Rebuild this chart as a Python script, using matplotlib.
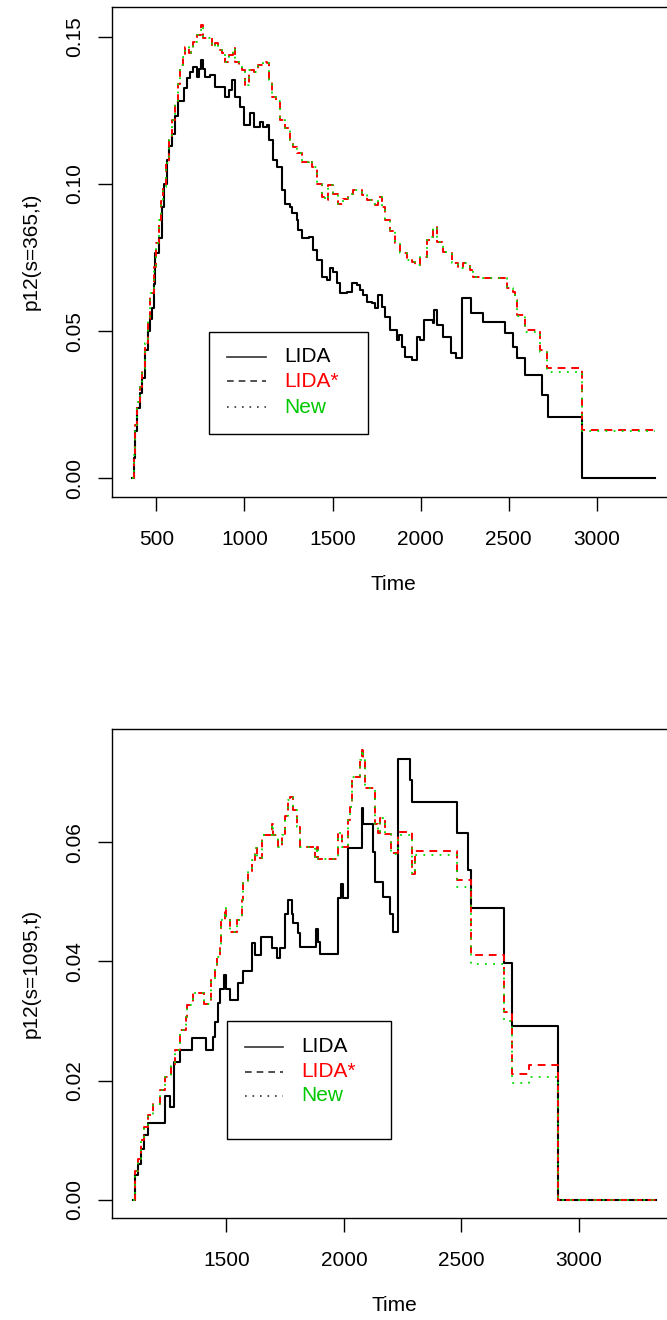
import matplotlib
matplotlib.use("Agg")
import matplotlib.pyplot as plt
from matplotlib.patches import Rectangle
from matplotlib.ticker import FormatStrFormatter

plt.rcParams['font.family'] = ['Liberation Sans', 'DejaVu Sans']
plt.rcParams['font.size'] = 15

# ---- panel 1: s = 365 ----
t_365_lida = [365, 371, 381, 391, 405, 419, 438, 452, 466, 475, 485, 494, 513, 532, 545, 561, 575, 589,
              608, 626, 655, 674, 693, 711, 730, 745, 753, 765, 778, 806, 834, 863, 891, 910, 929, 948,
              976, 999, 1033, 1052, 1090, 1108, 1128, 1137, 1165, 1184, 1213, 1231, 1260, 1269, 1298,
              1307, 1326, 1364, 1392, 1411, 1439, 1468, 1486, 1505, 1524, 1543, 1581, 1609, 1638, 1656,
              1675, 1694, 1723, 1741, 1760, 1779, 1798, 1827, 1865, 1879, 1893, 1912, 1950, 1978, 1997,
              2019, 2072, 2076, 2091, 2129, 2171, 2201, 2233, 2284, 2355, 2478, 2526, 2545, 2592, 2687,
              2720, 2913, 3330]
p_365_lida = [0.0, 0.007, 0.016, 0.024, 0.029, 0.034, 0.0435, 0.050, 0.054, 0.058, 0.066, 0.0764, 0.0815,
              0.092, 0.100, 0.108, 0.113, 0.117, 0.123, 0.128, 0.1324, 0.136, 0.138, 0.1397, 0.1363, 0.139,
              0.142, 0.139, 0.1363, 0.1369, 0.133, 0.133, 0.1295, 0.1318, 0.1352, 0.1295, 0.1261, 0.120,
              0.1239, 0.1193, 0.121, 0.1193, 0.120, 0.1148, 0.108, 0.1058, 0.0979, 0.0933, 0.0922, 0.090,
              0.0877, 0.0843, 0.0815, 0.082, 0.0775, 0.0741, 0.0684, 0.0673, 0.0713, 0.0701, 0.0662, 0.0628,
              0.0633, 0.0662, 0.0656, 0.064, 0.0622, 0.060, 0.0594, 0.0577, 0.0622, 0.0583, 0.0549, 0.0503,
              0.047, 0.0486, 0.0447, 0.0413, 0.0402, 0.0481, 0.047, 0.0537, 0.0526, 0.0571, 0.052, 0.0481,
              0.0424, 0.0407, 0.0611, 0.056, 0.0532, 0.0492, 0.0447, 0.0407, 0.0351, 0.0283, 0.0209, 0.0,
              0.0]

t_365_star = [365, 371, 381, 391, 405, 419, 438, 452, 466, 485, 500, 513, 527, 541, 555, 570, 589, 608, 622,
              636, 650, 664, 683, 697, 711, 730, 753, 768, 796, 815, 834, 853, 872, 891, 910, 935, 948, 967,
              986, 1005, 1029, 1052, 1080, 1108, 1128, 1137, 1156, 1180, 1203, 1231, 1260, 1278, 1298, 1326,
              1364, 1383, 1411, 1439, 1458, 1477, 1505, 1533, 1562, 1590, 1618, 1647, 1666, 1694, 1723, 1741,
              1760, 1779, 1798, 1827, 1855, 1883, 1921, 1950, 1968, 1997, 2035, 2053, 2072, 2091, 2129, 2157,
              2176, 2214, 2242, 2280, 2299, 2346, 2478, 2488, 2526, 2535, 2545, 2592, 2677, 2715, 2913, 3330]
p_365_star = [0.0, 0.008, 0.018, 0.026, 0.031, 0.037, 0.046, 0.054, 0.0628, 0.0718, 0.080, 0.0877, 0.094,
              0.099, 0.107, 0.1148, 0.1216, 0.128, 0.134, 0.1403, 0.143, 0.1465, 0.1443, 0.146, 0.1482,
              0.1505, 0.154, 0.1494, 0.1494, 0.1465, 0.1477, 0.1454, 0.1443, 0.1414, 0.1437, 0.146, 0.1414,
              0.1397, 0.1386, 0.1335, 0.1386, 0.138, 0.1403, 0.1414, 0.1409, 0.1352, 0.1295, 0.128, 0.1216,
              0.1188, 0.1148, 0.1126, 0.1103, 0.1075, 0.108, 0.1058, 0.1001, 0.0956, 0.0945, 0.0996, 0.0967,
              0.0933, 0.095, 0.0967, 0.0979, 0.0979, 0.0962, 0.0945, 0.0933, 0.0928, 0.0956, 0.0922, 0.0877,
              0.084, 0.0798, 0.0764, 0.0741, 0.0735, 0.0724, 0.0752, 0.0809, 0.082, 0.0854, 0.0803, 0.0769,
              0.0764, 0.073, 0.0713, 0.073, 0.0707, 0.0684, 0.0679, 0.0679, 0.0645, 0.0633, 0.0605, 0.0554,
              0.0503, 0.0436, 0.0373, 0.0164, 0.0164]
p_365_new = [0.0, 0.008, 0.018, 0.026, 0.031, 0.037, 0.046, 0.054, 0.0628, 0.0718, 0.080, 0.0877, 0.094,
             0.099, 0.107, 0.1148, 0.1216, 0.128, 0.134, 0.1403, 0.143, 0.1465, 0.1443, 0.146, 0.1482,
             0.1505, 0.1535, 0.1494, 0.1494, 0.1465, 0.1477, 0.1454, 0.1443, 0.1414, 0.1437, 0.146, 0.1414,
             0.1397, 0.1386, 0.1335, 0.1386, 0.138, 0.1403, 0.1414, 0.1409, 0.1352, 0.1295, 0.128, 0.1216,
             0.1188, 0.1148, 0.1126, 0.1103, 0.1075, 0.108, 0.1058, 0.1001, 0.0956, 0.0945, 0.0996, 0.0967,
             0.0933, 0.095, 0.0967, 0.0979, 0.0979, 0.0962, 0.0945, 0.0933, 0.0928, 0.0956, 0.0922, 0.0877,
             0.084, 0.0798, 0.0764, 0.0741, 0.0735, 0.0724, 0.0752, 0.0809, 0.082, 0.0854, 0.0803, 0.0769,
             0.0764, 0.073, 0.0713, 0.073, 0.0707, 0.0684, 0.0679, 0.0679, 0.0645, 0.0633, 0.0605, 0.0550,
             0.0498, 0.0430, 0.0362, 0.0162, 0.0162]

# ---- panel 2: s = 1095 ----
t_1095_lida = [1102, 1110, 1124, 1134, 1148, 1164, 1237, 1259, 1276, 1301, 1355, 1412, 1441, 1451, 1462,
               1472, 1489, 1497, 1515, 1550, 1569, 1607, 1621, 1645, 1692, 1714, 1728, 1749, 1763, 1777,
               1784, 1806, 1813, 1877, 1881, 1891, 1898, 1976, 1986, 1997, 2019, 2076, 2083, 2125, 2133,
               2168, 2197, 2210, 2232, 2282, 2289, 2481, 2530, 2540, 2682, 2715, 2910, 3330]
p_1095_lida = [0.0, 0.0041, 0.0061, 0.0086, 0.0108, 0.0129, 0.0175, 0.0156, 0.0231, 0.0252, 0.0272, 0.0252,
               0.0274, 0.0298, 0.033, 0.0354, 0.0377, 0.0354, 0.0335, 0.0363, 0.0384, 0.043, 0.041, 0.0441,
               0.0422, 0.0405, 0.0422, 0.048, 0.0503, 0.048, 0.0464, 0.0447, 0.0424, 0.0424, 0.0455, 0.0433,
               0.0413, 0.0506, 0.053, 0.0507, 0.059, 0.0657, 0.0631, 0.0584, 0.0533, 0.0508, 0.048, 0.045,
               0.0739, 0.0704, 0.0668, 0.0616, 0.0554, 0.049, 0.0397, 0.0291, 0.0, 0.0]

t_1095_star = [1102, 1110, 1124, 1134, 1148, 1166, 1185, 1216, 1237, 1263, 1280, 1301, 1327, 1332, 1358,
               1404, 1436, 1451, 1458, 1472, 1476, 1493, 1497, 1515, 1543, 1564, 1571, 1593, 1607, 1621,
               1628, 1650, 1692, 1699, 1720, 1735, 1749, 1763, 1770, 1784, 1799, 1813, 1877, 1884, 1891,
               1976, 1991, 2019, 2026, 2036, 2069, 2076, 2083, 2090, 2133, 2147, 2154, 2175, 2199, 2232,
               2289, 2303, 2481, 2540, 2680, 2718, 2790, 2910, 3330]
p_1095_star = [0.0, 0.0049, 0.0068, 0.010, 0.0122, 0.0142, 0.0161, 0.0184, 0.0206, 0.0224, 0.0251, 0.0285,
               0.0307, 0.0326, 0.0347, 0.0329, 0.0368, 0.039, 0.0408, 0.0424, 0.0469, 0.0489, 0.0472, 0.045,
               0.0469, 0.0503, 0.0531, 0.055, 0.057, 0.059, 0.0573, 0.0612, 0.0631, 0.0612, 0.0592, 0.0612,
               0.0643, 0.067, 0.0675, 0.0654, 0.0626, 0.0592, 0.0575, 0.0592, 0.0571, 0.0615, 0.0592, 0.0637,
               0.0659, 0.071, 0.0738, 0.076, 0.0738, 0.069, 0.0631, 0.0615, 0.064, 0.0613, 0.0581, 0.0617,
               0.0547, 0.0585, 0.0536, 0.041, 0.0315, 0.0211, 0.0227, 0.0, 0.0]
p_1095_new = [0.0, 0.0049, 0.0068, 0.010, 0.0122, 0.0142, 0.0161, 0.0184, 0.0206, 0.0224, 0.0251, 0.0285,
              0.0307, 0.0326, 0.0347, 0.0329, 0.0368, 0.039, 0.0408, 0.0424, 0.0469, 0.0489, 0.0472, 0.045,
              0.0469, 0.0503, 0.0531, 0.055, 0.057, 0.059, 0.0573, 0.0612, 0.0631, 0.0612, 0.0592, 0.0612,
              0.0643, 0.067, 0.0675, 0.0654, 0.0626, 0.0592, 0.0575, 0.0592, 0.0571, 0.0615, 0.0592, 0.0637,
              0.0659, 0.071, 0.0738, 0.0755, 0.0738, 0.069, 0.0631, 0.0615, 0.064, 0.0613, 0.058, 0.0612,
              0.0547, 0.0578, 0.0525, 0.0396, 0.030, 0.0196, 0.0206, 0.0, 0.0]

series_labels = ['LIDA', 'LIDA*', 'New']
label_colors = ['black', '#ff0000', '#00c800']

W, H = 667, 1320
fig = plt.figure(figsize=(W / 100, H / 100), dpi=100)


def px_axes(l, t, r, b):
    return fig.add_axes([l / W, 1 - b / H, (r - l) / W, (b - t) / H])


def style(ax, xlim, ylim, xticks, yticks, ylabel):
    ax.set_xlim(*xlim)
    ax.set_ylim(*ylim)
    ax.set_xticks(xticks)
    ax.set_yticks(yticks)
    ax.yaxis.set_major_formatter(FormatStrFormatter('%.2f'))
    ax.tick_params(direction='out', length=10, width=1.0, labelsize=15)
    ax.tick_params(axis='x', pad=14)
    ax.tick_params(axis='y', pad=10, labelrotation=90)
    for lab in ax.get_yticklabels():
        lab.set_va('center')
    for sp in ax.spines.values():
        sp.set_linewidth(1.0)
    ax.set_xlabel('Time', fontsize=15)
    ax.xaxis.set_label_coords(0.5, -0.16)
    ax.set_ylabel(ylabel, fontsize=15)
    ax.yaxis.set_label_coords(-0.125, 0.5)


def draw(ax, t_lida, p_lida, t_star, p_star, p_new):
    ax.step(t_lida, p_lida, where='post', color='black', lw=1.5)
    ax.step(t_star, p_star, where='post', color='#ff0000', lw=1.4, linestyle=(0, (4, 3)))
    ax.step(t_star, p_new, where='post', color='#00dd00', lw=1.3, linestyle=(0, (1, 3.5)))


def legend_box(ax, box, line_x, text_x, rows):
    x0, y0, x1, y1 = box
    ax.add_patch(Rectangle((x0, y0), x1 - x0, y1 - y0, transform=ax.transAxes,
                           fill=False, ec='black', lw=1.0, zorder=5))
    styles = ['-', (0, (4, 3)), (0, (1, 3.5))]
    for y, ls, lab, col in zip(rows, styles, series_labels, label_colors):
        ax.plot(line_x, [y, y], transform=ax.transAxes, color='#333333', lw=1.2,
                linestyle=ls, zorder=6)
        ax.text(text_x, y, lab, transform=ax.transAxes, color=col, fontsize=15,
                va='center', ha='left', zorder=6)


# top panel
ax1 = px_axes(111.5, 6.5, 676, 496.5)
draw(ax1, t_365_lida, p_365_lida, t_365_star, p_365_star, p_365_new)
style(ax1, (246, 3449), (-0.00616, 0.1602), [500, 1000, 1500, 2000, 2500, 3000],
      [0.0, 0.05, 0.10, 0.15], 'p12(s=365,t)')
legend_box(ax1, (0.1727, 0.1269, 0.4539, 0.3363), [0.2046, 0.2737], 0.3056,
           [0.2853, 0.2357, 0.1820])

# bottom panel
ax2 = px_axes(111.7, 728.6, 677, 1218)
draw(ax2, t_1095_lida, p_1095_lida, t_1095_star, p_1095_star, p_1095_new)
style(ax2, (1011, 3419), (-0.00304, 0.07904), [1500, 2000, 2500, 3000],
      [0.0, 0.02, 0.04, 0.06], 'p12(s=1095,t)')
legend_box(ax2, (0.204, 0.1609, 0.4941, 0.4035), [0.2358, 0.3036], 0.3361,
           [0.3503, 0.2992, 0.2501])

fig.savefig('out.png', dpi=100)
